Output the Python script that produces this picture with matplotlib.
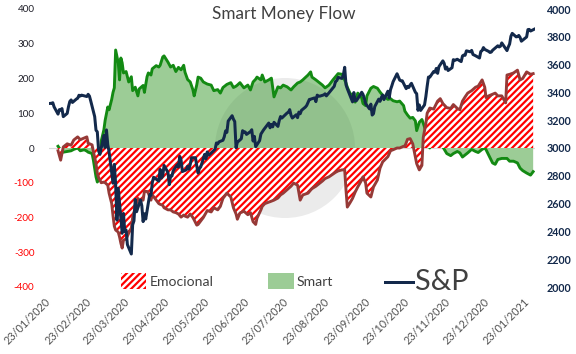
import matplotlib
matplotlib.use("Agg")
import matplotlib.pyplot as plt
import pandas as pd
from matplotlib.patches import Rectangle, Ellipse
from matplotlib.lines import Line2D
from matplotlib.path import Path

plt.rcParams['font.family'] = ['Lato', 'DejaVu Sans']
plt.rcParams['hatch.linewidth'] = 2.0

# ---------------- data ----------------
title = "Smart Money Flow"
series_names = ["Emocional", "Smart", "S&P"]

se_dates = [
    "2020-01-27", "2020-01-29", "2020-01-31", "2020-02-03", "2020-02-06", "2020-02-08", "2020-02-11",
    "2020-02-13", "2020-02-16", "2020-02-18", "2020-02-19", "2020-02-22", "2020-02-23", "2020-02-25",
    "2020-02-26", "2020-02-27", "2020-02-29", "2020-03-02", "2020-03-03", "2020-03-05", "2020-03-06",
    "2020-03-08", "2020-03-09", "2020-03-10", "2020-03-11", "2020-03-13", "2020-03-14", "2020-03-15",
    "2020-03-16", "2020-03-17", "2020-03-19", "2020-03-21", "2020-03-23", "2020-03-24", "2020-03-26",
    "2020-03-28", "2020-03-29", "2020-04-01", "2020-04-02", "2020-04-04", "2020-04-05", "2020-04-07",
    "2020-04-08", "2020-04-11", "2020-04-13", "2020-04-14", "2020-04-16", "2020-04-17", "2020-04-20",
    "2020-04-22", "2020-04-24", "2020-04-26", "2020-04-28", "2020-04-30", "2020-05-02", "2020-05-03",
    "2020-05-05", "2020-05-07", "2020-05-09", "2020-05-10", "2020-05-12", "2020-05-13", "2020-05-15",
    "2020-05-17", "2020-05-20", "2020-05-23", "2020-05-25", "2020-05-28", "2020-05-30", "2020-06-01",
    "2020-06-04", "2020-06-07", "2020-06-09", "2020-06-11", "2020-06-12", "2020-06-14", "2020-06-17",
    "2020-06-20", "2020-06-22", "2020-06-24", "2020-06-26", "2020-06-27", "2020-06-30", "2020-07-01",
    "2020-07-03", "2020-07-06", "2020-07-08", "2020-07-10", "2020-07-13", "2020-07-15", "2020-07-17",
    "2020-07-20", "2020-07-23", "2020-07-25", "2020-07-28", "2020-07-30", "2020-08-01", "2020-08-05",
    "2020-08-07", "2020-08-08", "2020-08-11", "2020-08-13", "2020-08-16", "2020-08-18", "2020-08-21",
    "2020-08-24", "2020-08-26", "2020-08-28", "2020-08-31", "2020-09-02", "2020-09-03", "2020-09-04",
    "2020-09-06", "2020-09-08", "2020-09-10", "2020-09-12", "2020-09-15", "2020-09-16", "2020-09-18",
    "2020-09-19", "2020-09-22", "2020-09-24", "2020-09-27", "2020-09-29", "2020-10-01", "2020-10-05",
    "2020-10-07", "2020-10-09", "2020-10-12", "2020-10-14", "2020-10-17", "2020-10-18", "2020-10-20",
    "2020-10-22", "2020-10-24", "2020-10-26", "2020-10-27", "2020-10-29", "2020-10-31", "2020-11-01",
    "2020-11-03", "2020-11-04", "2020-11-06", "2020-11-09", "2020-11-12", "2020-11-14", "2020-11-16",
    "2020-11-19", "2020-11-22", "2020-11-24", "2020-11-27", "2020-11-29", "2020-12-01", "2020-12-03",
    "2020-12-05", "2020-12-08", "2020-12-11", "2020-12-13", "2020-12-16", "2020-12-18", "2020-12-19",
    "2020-12-21", "2020-12-24", "2020-12-26", "2020-12-28", "2020-12-31", "2021-01-03", "2021-01-04",
    "2021-01-06", "2021-01-09", "2021-01-12", "2021-01-14", "2021-01-16", "2021-01-19", "2021-01-22",
    "2021-01-24",
]

smart = [
    5, -6, -12, -10, -8, -4, 0, -8, -5, -9, -12, -16, -35, -83,
    -98, -92, 20, 52, 80, 118, 110, 140, 160, 173, 282, 245, 196, 259,
    245, 216, 220, 190, 205, 165, 175, 150, 170, 180, 160, 205, 216, 210,
    228, 237, 233, 238, 262, 265, 247, 233, 238, 220, 232, 225, 238, 218,
    197, 190, 168, 150, 182, 204, 201, 190, 184, 181, 165, 168, 158, 174,
    183, 188, 174, 178, 181, 188, 173, 181, 167, 190, 198, 204, 196, 210,
    190, 196, 201, 147, 176, 173, 181, 176, 167, 176, 187, 190, 196, 210,
    219, 204, 196, 190, 181, 173, 181, 196, 205, 214, 212, 195, 187, 175,
    158, 150, 132, 158, 144, 128, 122, 150, 172, 177, 172, 161, 152, 140,
    142, 136, 133, 135, 122, 106, 95, 86, 88, 78, 50, 74, 82, 72,
    48, 30, 0, 20, 22, 32, 3, -16, -22, -16, -10, -14, -26, -20,
    -14, -4, -10, -13, -4, 0, -5, -20, -43, -47, -33, -30, -30, -30,
    -38, -38, -43, -58, -65, -72, -78, -68,
]

emocional = [
    -8, -35, 3, 12, 8, 23, 32, 24, 29, 32, 14, 9, -10, -45,
    -72, -85, -100, -98, -100, -107, -130, -160, -195, -225, -236, -242, -256, -274,
    -288, -265, -262, -245, -230, -200, -170, -145, -150, -150, -125, -125, -130, -150,
    -135, -150, -160, -162, -165, -172, -178, -178, -184, -186, -190, -199, -193, -196,
    -199, -190, -200, -207, -222, -220, -210, -200, -180, -184, -172, -178, -168, -145,
    -130, -141, -172, -190, -205, -187, -182, -192, -186, -212, -220, -202, -178, -168,
    -160, -156, -153, -150, -144, -135, -130, -120, -110, -101, -107, -150, -135, -130,
    -121, -117, -110, -104, -95, -88, -83, -75, -70, -66, -63, -63, -121, -170,
    -158, -145, -127, -112, -92, -83, -101, -130, -141, -112, -92, -58, -40, -25,
    -8, -5, 0, 0, 5, 5, 25, 27, 12, -26, -45, -63, -50, 30,
    70, 100, 115, 112, 135, 142, 128, 116, 114, 125, 114, 110, 135, 147,
    158, 165, 175, 178, 196, 175, 145, 150, 155, 158, 150, 150, 130, 210,
    212, 216, 224, 196, 200, 219, 212, 214,
]

spx_days = [
    ("2020-01", [21, 22, 23, 24, 27, 28, 29, 30, 31]),
    ("2020-02", [3, 4, 5, 6, 7, 10, 11, 12, 13, 14, 18, 19, 20, 21, 24, 25, 26, 27, 28]),
    ("2020-03", [2, 3, 4, 5, 6, 9, 10, 11, 12, 13, 16, 17, 18, 19, 20, 23, 24, 25, 26, 27, 30, 31]),
    ("2020-04", [1, 2, 3, 6, 7, 8, 9, 13, 14, 15, 16, 17, 20, 21, 22, 23, 24, 27, 28, 29, 30]),
    ("2020-05", [1, 4, 5, 6, 7, 8, 11, 12, 13, 14, 15, 18, 19, 20, 21, 22, 26, 27, 28, 29]),
    ("2020-06", [1, 2, 3, 4, 5, 8, 9, 10, 11, 12, 15, 16, 17, 18, 19, 22, 23, 24, 25, 26, 29, 30]),
    ("2020-07", [1, 2, 6, 7, 8, 9, 10, 13, 14, 15, 16, 17, 20, 21, 22, 23, 24, 27, 28, 29, 30, 31]),
    ("2020-08", [3, 4, 5, 6, 7, 10, 11, 12, 13, 14, 17, 18, 19, 20, 21, 24, 25, 26, 27, 28, 31]),
    ("2020-09", [1, 2, 3, 4, 8, 9, 10, 11, 14, 15, 16, 17, 18, 21, 22, 23, 24, 25, 28, 29, 30]),
    ("2020-10", [1, 2, 5, 6, 7, 8, 9, 12, 13, 14, 15, 16, 19, 20, 21, 22, 23, 26, 27, 28, 29, 30]),
    ("2020-11", [2, 3, 4, 5, 6, 9, 10, 11, 12, 13, 16, 17, 18, 19, 20, 23, 24, 25, 27, 30]),
    ("2020-12", [1, 2, 3, 4, 7, 8, 9, 10, 11, 14, 15, 16, 17, 18, 21, 22, 23, 24, 28, 29, 30, 31]),
    ("2021-01", [4, 5, 6, 7, 8, 11, 12, 13, 14, 15, 19, 20, 21, 22, 25]),
]

spx_close = [
    3320.8, 3321.8, 3325.5, 3295.5, 3243.6, 3276.2, 3273.4, 3283.7, 3225.5,
    3248.9, 3297.6, 3334.7, 3345.8, 3327.7, 3352.1, 3357.8, 3379.5, 3373.9, 3380.2,
    3370.3, 3386.2, 3373.2, 3337.8, 3225.9, 3128.2, 3116.4, 2978.8, 2954.2,
    3090.2, 3003.4, 3130.1, 3023.9, 2972.4, 2746.6, 2882.2, 2741.4, 2480.6, 2711.0,
    2386.1, 2529.2, 2398.1, 2409.4, 2304.9, 2237.4, 2447.3, 2475.6, 2630.1, 2541.5, 2626.7, 2584.6,
    2470.5, 2526.9, 2488.7, 2663.7, 2659.4, 2750.0, 2789.8, 2761.6, 2846.1, 2783.4, 2799.6,
    2874.6, 2823.2, 2736.6, 2799.3, 2797.8, 2836.7, 2878.5, 2863.4, 2939.5, 2912.4,
    2830.7, 2842.7, 2868.4, 2848.4, 2881.2, 2929.8, 2930.3, 2870.1, 2820.0, 2852.5,
    2863.7, 2953.9, 2922.9, 2971.6, 2948.5, 2955.5, 2991.8, 3036.1, 3029.7, 3044.3,
    3055.7, 3080.8, 3122.9, 3112.4, 3193.9, 3232.4, 3207.2, 3190.1, 3002.1, 3041.3,
    3066.6, 3124.7, 3113.5, 3115.3, 3097.7, 3117.9, 3131.3, 3050.3, 3083.8, 3009.1, 3053.2, 3100.3,
    3115.9, 3130.0, 3179.7, 3145.3, 3169.9, 3152.1, 3185.0, 3155.2, 3197.5, 3226.6, 3215.6,
    3224.7, 3251.8, 3257.3, 3276.0, 3235.7, 3215.6, 3239.4, 3218.4, 3258.4, 3246.2, 3271.1,
    3294.6, 3306.5, 3327.8, 3349.2, 3351.3, 3360.5, 3333.7, 3380.4, 3373.4, 3372.9,
    3382.0, 3389.8, 3374.9, 3385.5, 3397.2, 3431.3, 3443.6, 3478.7, 3484.6, 3508.0, 3500.3,
    3526.7, 3580.8, 3455.1, 3427.0, 3331.8, 3399.0, 3339.2, 3341.0, 3383.5, 3401.2, 3385.5,
    3357.0, 3319.5, 3281.1, 3315.6, 3236.9, 3246.6, 3298.5, 3351.6, 3335.5, 3363.0,
    3380.8, 3348.4, 3408.6, 3361.0, 3419.4, 3446.8, 3477.1, 3534.2, 3511.9, 3488.7, 3483.3,
    3483.8, 3426.9, 3443.1, 3435.6, 3453.5, 3465.4, 3401.0, 3390.7, 3271.0, 3310.1, 3270.0,
    3310.2, 3369.2, 3443.4, 3510.5, 3509.4, 3550.5, 3545.5, 3572.7, 3537.0, 3585.2,
    3626.9, 3609.5, 3567.8, 3581.9, 3557.5, 3577.6, 3635.4, 3629.7, 3638.4, 3621.6,
    3662.5, 3669.0, 3666.7, 3699.1, 3692.0, 3702.3, 3672.8, 3668.1, 3663.5, 3647.5, 3694.6,
    3701.2, 3722.5, 3709.4, 3694.9, 3687.3, 3690.0, 3703.1, 3735.4, 3727.0, 3732.0, 3756.1,
    3700.7, 3726.9, 3748.1, 3803.8, 3824.7, 3799.6, 3801.2, 3809.8, 3795.5, 3768.3,
    3798.9, 3851.9, 3853.1, 3841.5, 3855.4,
]

x_tick_dates = ["2020-01-23", "2020-02-23", "2020-03-23", "2020-04-23", "2020-05-23", "2020-06-23",
                "2020-07-23", "2020-08-23", "2020-09-23", "2020-10-23", "2020-11-23", "2020-12-23",
                "2021-01-23"]
left_ticks = [-400, -300, -200, -100, 0, 100, 200, 300, 400]
right_ticks = [2000, 2200, 2400, 2600, 2800, 3000, 3200, 3400, 3600, 3800, 4000]

# ---------------- styles ----------------
NAVY = "#13294b"
BROWN = "#963a37"
GREEN_LINE = "#138a13"
GREEN_FILL = "#9ccc96"
HATCH_RED = "#ff0000"
TXT = "#404040"

se_dt = pd.to_datetime(se_dates)
spx_dt = pd.to_datetime([f"{m}-{d:02d}" for m, days in spx_days for d in days])

DPI = 80
W, H = 576, 354
fig = plt.figure(figsize=(W / DPI, H / DPI), dpi=DPI)
fig.patch.set_facecolor("white")

L, R, T, B = 49.4, 535.0, 9.0, 287.0
ax = fig.add_axes([L / W, 1 - B / H, (R - L) / W, (B - T) / H])
ax2 = ax.twinx()

base = pd.Timestamp("2020-01-23")
x0 = base + pd.Timedelta(days=-2.6)
x1 = base + pd.Timedelta(days=368.4)

WM_CENTER = (285 / W, 1 - 148 / H)
WM_SIZE = (140 / W, 140 / H)

# watermark disc behind everything
ax.add_patch(Ellipse(WM_CENTER, *WM_SIZE, transform=fig.transFigure,
                     facecolor="#ebebeb", edgecolor="none", zorder=0.5))
ax.axhline(0, color="#d9d9d9", lw=1.0, zorder=1.5)
green_poly = ax.fill_between(se_dt, 0, smart, facecolor=GREEN_FILL, edgecolor="none", lw=0, zorder=2)
# watermark seen through the green area: slight darkening, clipped to the green fill
overlay = Ellipse(WM_CENTER, *WM_SIZE, transform=fig.transFigure,
                  facecolor="#1a3a1a", alpha=0.07, edgecolor="none", zorder=2.5)
ax.add_patch(overlay)
overlay.set_clip_path(Path.make_compound_path(*green_poly.get_paths()), ax.transData)

ax.plot(se_dt, smart, color=GREEN_LINE, lw=2.6, zorder=3, solid_joinstyle="round")
ax.fill_between(se_dt, 0, emocional, facecolor="white", edgecolor=HATCH_RED, hatch="////", lw=0, zorder=4)
ax.plot(se_dt, emocional, color=BROWN, lw=2.6, zorder=5, solid_joinstyle="round")
ax2.plot(spx_dt, spx_close, color=NAVY, lw=2.7, zorder=6, solid_joinstyle="round")

ax.set_xlim(x0, x1)
ax.set_ylim(-400, 400)
ax2.set_ylim(2000, 4000)

for a in (ax, ax2):
    for s in a.spines.values():
        s.set_visible(False)
ax2.patch.set_visible(False)

ax.set_yticks(left_ticks)
ax.set_yticklabels([str(v) for v in left_ticks])
for lab, v in zip(ax.get_yticklabels(), left_ticks):
    lab.set_color(HATCH_RED if v < 0 else "#1e1e28")
ax.tick_params(axis="y", length=0, pad=13.5, labelsize=8.9)

ax2.set_yticks(right_ticks)
ax2.set_yticklabels([str(v) for v in right_ticks], fontweight="bold", color=NAVY)
ax2.tick_params(axis="y", length=0, pad=10.8, labelsize=9.6)

ax.set_xticks(pd.to_datetime(x_tick_dates))
ax.set_xticklabels([pd.Timestamp(d).strftime("%d/%m/%Y") for d in x_tick_dates],
                   rotation=45, ha="right", va="top", rotation_mode="default",
                   color="#505050", fontsize=9.8)
ax.tick_params(axis="x", length=0, pad=8.5)

fig.text(284 / W, 1 - 19.5 / H, title, ha="center", va="baseline", fontsize=15.4, color=TXT)

# legend
fig.add_artist(Rectangle((121 / W, 1 - 289 / H), 25 / W, 16 / H, transform=fig.transFigure,
                         facecolor="white", edgecolor=HATCH_RED, hatch="////", lw=0))
fig.text(150 / W, 1 - 286 / H, series_names[0], ha="left", va="baseline", fontsize=12.6, color=TXT)
fig.add_artist(Rectangle((268 / W, 1 - 289 / H), 26 / W, 16 / H, transform=fig.transFigure,
                         facecolor=GREEN_FILL, edgecolor="none", lw=0))
fig.text(297 / W, 1 - 286 / H, series_names[1], ha="left", va="baseline", fontsize=12.6, color=TXT)
fig.add_artist(Line2D([385 / W, 413 / W], [1 - 282 / H, 1 - 282 / H], transform=fig.transFigure,
                      color=NAVY, lw=2.7))
fig.text(415 / W, 1 - 290 / H, series_names[2], ha="left", va="baseline", fontsize=26, color=TXT)

fig.savefig("out.png", dpi=DPI, facecolor="white")
